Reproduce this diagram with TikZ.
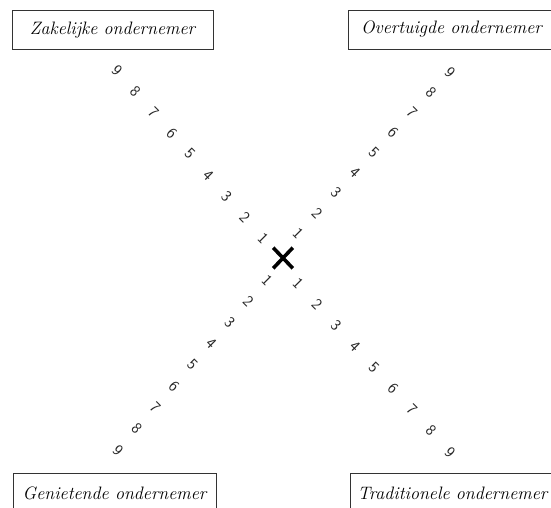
\documentclass[tikz,border=0pt]{standalone}
\usepackage{fontspec}
\usetikzlibrary{shapes.misc}
\begin{document}
\begin{tikzpicture}[x=1pt,y=-1pt,
  lbl/.style={draw=black!80, line width=0.9pt, minimum width=#1, minimum height=39pt,
    inner sep=0pt, font=\fontsize{18}{18}\selectfont\itshape},
  digit/.style={rotate=-45, inner sep=0pt, font=\fontsize{16}{16}\selectfont\sffamily, text=black!85},
  crossmark/.style={cross out, draw=black, line width=3.6pt, minimum width=16pt, minimum height=17pt, inner sep=0pt}]
\useasboundingbox (0,0) rectangle (551,508);
\clip (0,0) rectangle (551,508);
\fill[white] (0,0) rectangle (551,508);
% boxes
\node[lbl=201pt] (zak) at (112.5,30) {Zakelijke ondernemer};
\node[lbl=207pt] (ovt) at (451.5,29.5) {Overtuigde ondernemer};
\node[lbl=203pt] (gen) at (114.5,493) {Genietende ondernemer};
\node[lbl=205pt] (tra) at (452.5,493) {Traditionele ondernemer};
% centre cross
\node[crossmark] (x) at (283,258) {};
% scales
\foreach \k in {1,...,9} {
  \pgfmathsetmacro\t{(\k-1)/8}
  \node[digit] (ul\k) at ({263+\t*(117-263)},{238+\t*(70-238)}) {\k};
  \node[digit] (ur\k) at ({298+\t*(450-298)},{233+\t*(72-233)}) {\k};
  \node[digit] (ll\k) at ({267+\t*(118-267)},{280+\t*(450-280)}) {\k};
  \node[digit] (lr\k) at ({298+\t*(450-298)},{283+\t*(452-283)}) {\k};
}
\end{tikzpicture}
\end{document}
